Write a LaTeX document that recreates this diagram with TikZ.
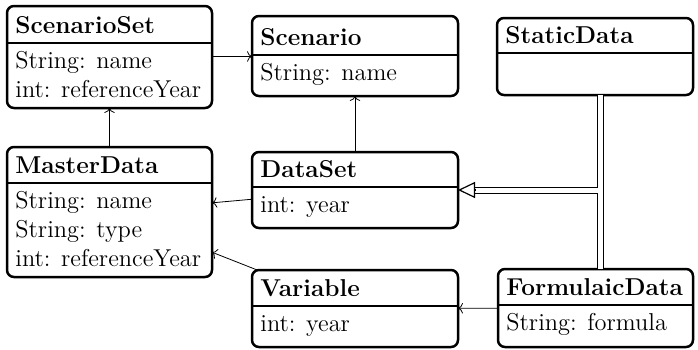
\documentclass[tikz,border=0pt]{standalone}
\usetikzlibrary{arrows.meta}
\tikzset{
  clsbox/.style={draw, line width=1.25pt, rounded corners=3.5pt, inner sep=0pt, outer sep=0pt},
  hdrline/.style={line width=1.25pt},
  titletxt/.style={anchor=base west, inner sep=0pt, font=\fontsize{12.2}{14}\selectfont\bfseries},
  attrtxt/.style={anchor=base west, inner sep=0pt, font=\fontsize{12.2}{14}\selectfont},
  assoc/.style={draw, line width=0.4pt, ->},
  inh/.style={draw, line width=0.5pt, double, double distance=2.5pt},
  inhtip/.style={line width=0.6pt, -{Triangle[open, length=8.5pt, width=8pt]}}
}
\newcommand\umlcls[7]{%
  \pgfmathsetmacro\clsw{(#4-#2)*0.5}%
  \pgfmathsetmacro\clsh{(#5-#3)*0.5}%
  \node[clsbox, minimum width=\clsw pt, minimum height=\clsh pt] (#1) at ({(#2+#4)/2},{(#3+#5)/2}) {};
  \draw[hdrline] (#2,#6) -- (#4,#6);
  \node[titletxt] (#1-t) at ({#2+8},{#6-10}) {#7};
}
\begin{document}
\begin{tikzpicture}[x=0.5pt, y=-0.5pt]
\useasboundingbox (0,0) rectangle (698,349);

\umlcls{ss}{7}{6}{212}{108}{43}{ScenarioSet}
\node[attrtxt] (ss-a1) at (15,68) {String: name};
\node[attrtxt] (ss-a2) at (15,97) {int: referenceYear};

\umlcls{sc}{252}{16}{458}{96}{55}{Scenario}
\node[attrtxt] (sc-a1) at (260,80) {String: name};

\umlcls{sd}{497}{18}{693}{95}{53}{StaticData}

\umlcls{md}{7}{147}{212}{277}{183}{MasterData}
\node[attrtxt] (md-a1) at (15,208) {String: name};
\node[attrtxt] (md-a2) at (15,237) {String: type};
\node[attrtxt] (md-a3) at (15,266) {int: referenceYear};

\umlcls{ds}{252}{152}{458}{228}{187}{DataSet}
\node[attrtxt] (ds-a1) at (260,212) {int: year};

\umlcls{var}{252}{270}{458}{347}{306}{Variable}
\node[attrtxt] (var-a1) at (260,331) {int: year};

\umlcls{fd}{498}{269}{693}{347}{305}{FormulaicData}
\node[attrtxt] (fd-a1) at (506,330) {String: formula};

% associations
\draw[assoc] (ss) -- (sc);
\draw[assoc] (md) -- (ss);
\draw[assoc] (ds) -- (sc);
\draw[assoc] (ds) -- (md);
\draw[assoc] (var) -- (md);
\draw[assoc] (fd) -- (var);

% inheritance
\coordinate (jx) at (600,190);
\coordinate (jl) at (597.5,190);
\coordinate (tb) at (475,190);
\draw[inh] (sd.south -| jx) -- (fd.north -| jx);
\draw[inh] (jl) -- (tb);
\draw[inhtip] (tb) -- (ds.east);
\end{tikzpicture}
\end{document}
